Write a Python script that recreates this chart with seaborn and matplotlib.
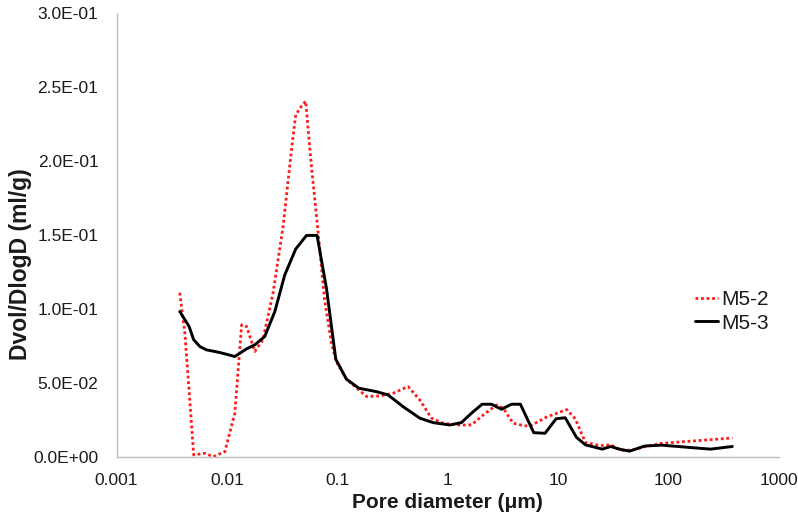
import matplotlib
matplotlib.use("Agg")
import matplotlib.pyplot as plt
import seaborn as sns
import pandas as pd
from matplotlib.ticker import FuncFormatter, NullLocator

# M5-2 (red dotted)
m52_x = [0.00374, 0.00416, 0.00461, 0.0050, 0.00632, 0.00751, 0.00957, 0.0118, 0.0136, 0.0151,
         0.0179, 0.0212, 0.0262, 0.0323, 0.0385, 0.042, 0.0474, 0.0517, 0.0583, 0.0667,
         0.0767, 0.0886, 0.098, 0.121, 0.184, 0.243, 0.32, 0.438, 0.559, 0.713,
         0.908, 1.24, 1.64, 2.1, 2.77, 3.2, 3.91, 4.82, 5.55, 7.9,
         12.0, 14.3, 17.7, 24.3, 30.0, 37.2, 46.0, 61.0, 86.0, 379.0]
m52_y = [0.111, 0.0838, 0.0387, 0.0016, 0.0027, 0.0004, 0.0038, 0.0297, 0.0894, 0.0882,
         0.0714, 0.0793, 0.111, 0.1558, 0.2076, 0.231, 0.2369, 0.2403, 0.1964, 0.1536,
         0.1063, 0.077, 0.0646, 0.0527, 0.041, 0.0414, 0.0432, 0.0477, 0.0387, 0.0264,
         0.023, 0.0218, 0.0218, 0.0286, 0.0353, 0.033, 0.023, 0.0214, 0.021, 0.0272,
         0.0322, 0.026, 0.010, 0.0078, 0.0084, 0.0048, 0.0048, 0.0071, 0.0094, 0.013]

# M5-3 (black solid)
m53_x = [0.00374, 0.00455, 0.0050, 0.0057, 0.00652, 0.00863, 0.0118, 0.0151, 0.0179, 0.022,
         0.0272, 0.0334, 0.042, 0.0526, 0.0656, 0.0798, 0.0969, 0.121, 0.157, 0.226,
         0.288, 0.394, 0.559, 0.738, 1.045, 1.33, 1.64, 2.05, 2.49, 3.07,
         3.78, 4.56, 6.02, 7.62, 9.6, 11.6, 14.7, 17.7, 25.2, 30.0,
         35.9, 44.3, 60.9, 86.4, 240.0, 379.0]
m53_y = [0.0984, 0.0882, 0.0793, 0.0747, 0.0725, 0.0707, 0.068, 0.0732, 0.0759, 0.0815,
         0.0984, 0.123, 0.1405, 0.1497, 0.1497, 0.114, 0.0662, 0.0527, 0.0466, 0.0443,
         0.0421, 0.0342, 0.0264, 0.0234, 0.0218, 0.0234, 0.0297, 0.0358, 0.0358, 0.0324,
         0.0358, 0.0358, 0.0166, 0.0162, 0.026, 0.0267, 0.0134, 0.0084, 0.0055, 0.0073,
         0.0055, 0.0041, 0.0076, 0.0082, 0.0055, 0.0073]

x_ticks = [0.001, 0.01, 0.1, 1, 10, 100, 1000]
x_tick_labels = ["0.001", "0.01", "0.1", "1", "10", "100", "1000"]
y_ticks = [0, 0.05, 0.1, 0.15, 0.2, 0.25, 0.3]

x_label = "Pore diameter (\u03bcm)"
y_label = "Dvol/DlogD (ml/g)"

sns.set_theme(style="white")
plt.rcParams["font.family"] = ["Liberation Sans", "DejaVu Sans"]

df2 = pd.DataFrame({"x": m52_x, "y": m52_y})
df3 = pd.DataFrame({"x": m53_x, "y": m53_y})

fig = plt.figure(figsize=(7.98, 5.2), dpi=100)
ax = fig.add_axes([0.146, 0.1206, 0.830, 0.855])

sns.lineplot(data=df2, x="x", y="y", ax=ax, color="#FF1A1A", linestyle=(0, (1, 1)),
             linewidth=2.0, label="M5-2", sort=False, estimator=None)
sns.lineplot(data=df3, x="x", y="y", ax=ax, color="black", linestyle="-",
             linewidth=2.1, label="M5-3", sort=False, estimator=None)

ax.set_xscale("log")
ax.set_xlim(0.001, 1000)
ax.set_ylim(0, 0.3)
ax.set_xticks(x_ticks)
ax.set_xticklabels(x_tick_labels)
ax.xaxis.set_minor_locator(NullLocator())
ax.set_yticks(y_ticks)
ax.yaxis.set_major_formatter(FuncFormatter(lambda v, p: f"{v:.1E}"))

for s in ["top", "right"]:
    ax.spines[s].set_visible(False)
for s in ["left", "bottom"]:
    ax.spines[s].set_color("#BFBFBF")
    ax.spines[s].set_linewidth(1.0)
ax.tick_params(axis="both", which="major", direction="out", length=5, width=1,
               color="#BFBFBF", labelsize=12.5, labelcolor="#1a1a1a")
ax.tick_params(axis="x", pad=6)
ax.tick_params(axis="y", pad=8)

ax.set_xlabel(x_label, fontsize=15, fontweight="bold", color="#1a1a1a", labelpad=4)
ax.set_ylabel(y_label, fontsize=16.5, fontweight="bold", color="#1a1a1a")
ax.yaxis.set_label_coords(-0.128, 0.435)

leg = ax.legend(loc="center left", bbox_to_anchor=(0.874, 0.328), frameon=False,
                fontsize=15, handlelength=1.1, handletextpad=0.15, labelspacing=0.2,
                borderaxespad=0, borderpad=0)
for t in leg.get_texts():
    t.set_color("#1a1a1a")

fig.savefig("out.png", dpi=100)
